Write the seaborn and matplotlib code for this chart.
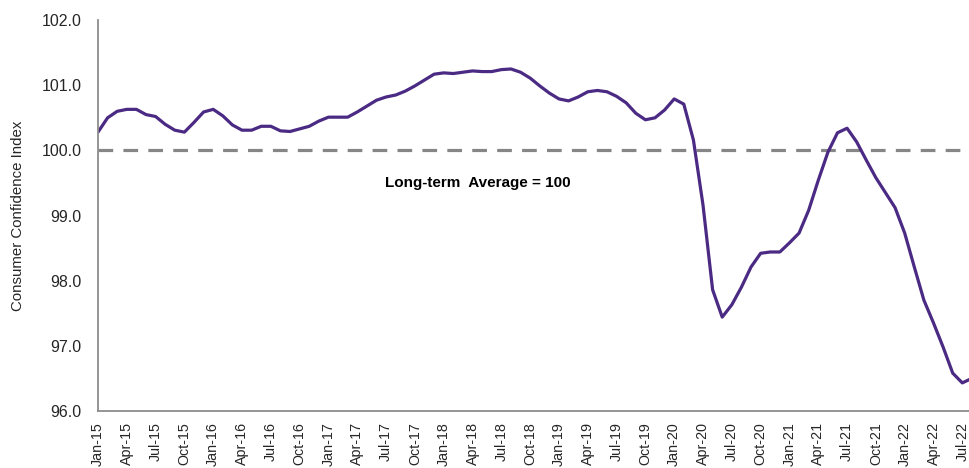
import matplotlib
matplotlib.use("Agg")
import matplotlib.pyplot as plt
import seaborn as sns
import pandas as pd

# monthly consumer confidence index, Jan-15 .. Aug-22
cci = [
    100.28, 100.50, 100.60, 100.63, 100.63, 100.55, 100.52, 100.40, 100.31, 100.28, 100.43, 100.59,  # 2015
    100.63, 100.53, 100.39, 100.31, 100.31, 100.37, 100.37, 100.30, 100.29, 100.33, 100.37, 100.45,  # 2016
    100.51, 100.51, 100.51, 100.59, 100.68, 100.77, 100.82, 100.85, 100.91, 100.99, 101.08, 101.17,  # 2017
    101.19, 101.18, 101.20, 101.22, 101.21, 101.21, 101.24, 101.25, 101.20, 101.11, 100.99, 100.88,  # 2018
    100.79, 100.76, 100.82, 100.90, 100.92, 100.90, 100.83, 100.73, 100.57, 100.47, 100.50, 100.62,  # 2019
    100.79, 100.71, 100.16, 99.16, 97.86, 97.44, 97.63, 97.90, 98.21, 98.42, 98.44, 98.44,           # 2020
    98.58, 98.73, 99.08, 99.54, 99.97, 100.27, 100.34, 100.13, 99.85, 99.58, 99.35, 99.12,           # 2021
    98.73, 98.21, 97.70, 97.35, 96.98, 96.58, 96.43, 96.50,                                           # 2022
]
tick_labels = [
    "Jan-15", "Apr-15", "Jul-15", "Oct-15", "Jan-16", "Apr-16", "Jul-16", "Oct-16",
    "Jan-17", "Apr-17", "Jul-17", "Oct-17", "Jan-18", "Apr-18", "Jul-18", "Oct-18",
    "Jan-19", "Apr-19", "Jul-19", "Oct-19", "Jan-20", "Apr-20", "Jul-20", "Oct-20",
    "Jan-21", "Apr-21", "Jul-21", "Oct-21", "Jan-22", "Apr-22", "Jul-22",
]
long_term_avg = 100
y_ticks = [96, 97, 98, 99, 100, 101, 102]

df = pd.DataFrame({"month": range(len(cci)), "cci": cci})

sns.set_style("white")
plt.rcParams["font.family"] = ["Liberation Sans Narrow", "Liberation Sans", "DejaVu Sans"]

fig = plt.figure(figsize=(9.7, 4.68), dpi=100)
ax = fig.add_axes([0.101, 0.122, 0.899, 0.835])

sns.lineplot(data=df, x="month", y="cci", ax=ax, color="#4B2A84", linewidth=2.3)
ax.axhline(long_term_avg, color="#868686", linewidth=2.3, dashes=(4.6, 3.2), zorder=1)
ax.text(39.5, 99.5, "Long-term  Average = 100", ha="center", va="center",
        fontsize=11, fontweight="bold", color="black")

ax.set_xlim(0, 90.8)
ax.set_ylim(96, 102)
ax.set_xticks(range(0, 3 * len(tick_labels), 3))
ax.set_xticklabels(tick_labels, rotation=90, fontsize=10.3)
ax.set_yticks(y_ticks)
ax.set_yticklabels([f"{v:.1f}" for v in y_ticks], fontsize=11.5)
ax.set_xlabel("")
ax.set_ylabel("Consumer Confidence Index", fontsize=10.8, labelpad=12)

for side in ["top", "right"]:
    ax.spines[side].set_visible(False)
for side in ["left", "bottom"]:
    ax.spines[side].set_color("#8C8C8C")
    ax.spines[side].set_linewidth(1.3)
ax.tick_params(axis="y", direction="in", length=5, width=1.3, color="#8C8C8C", pad=12)
ax.tick_params(axis="x", direction="out", length=5, width=1.3, color="#8C8C8C", pad=3)

fig.savefig("out.png", dpi=100)
